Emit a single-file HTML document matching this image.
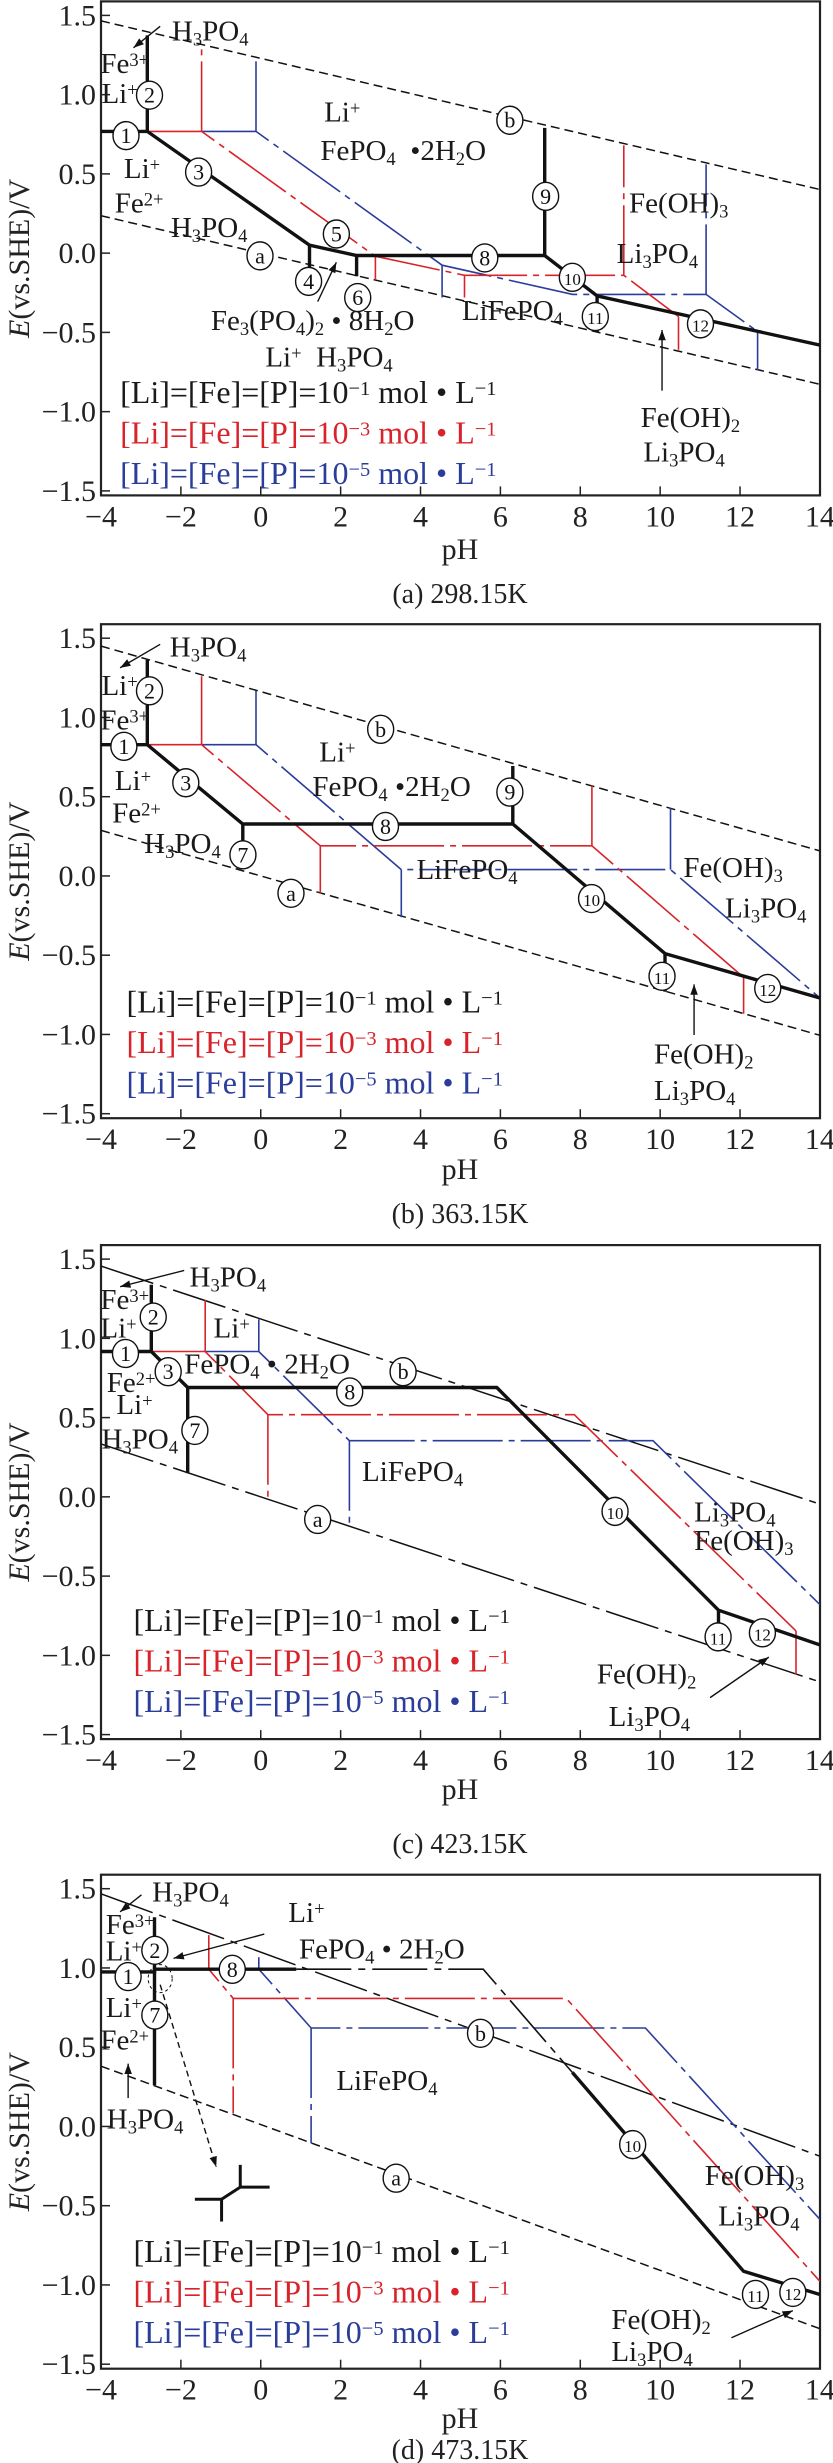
<!DOCTYPE html>
<html><head><meta charset="utf-8">
<style>
html,body{margin:0;padding:0;background:#fff;}
svg{display:block;font-family:"Liberation Serif","Times New Roman",serif;}
</style></head>
<body>
<svg id="fig" width="833" height="2463" viewBox="0 0 833 2463" xmlns="http://www.w3.org/2000/svg"></svg>
<script>
// ---------- axis / tick data ----------
const xTicks = [-4,-2,0,2,4,6,8,10,12,14];
const yTicks = [1.5,1.0,0.5,0.0,-0.5,-1.0,-1.5];
const yTickLabels = ["1.5","1.0","0.5","0.0","\u22120.5","\u22121.0","\u22121.5"];
const xTickLabels = ["\u22124","\u22122","0","2","4","6","8","10","12","14"];
const captions = ["(a) 298.15K","(b) 363.15K","(c) 423.15K","(d) 473.15K"];
const legendTexts = ["[Li]=[Fe]=[P]=10^{\u22121} mol \u2022 L^{\u22121}","[Li]=[Fe]=[P]=10^{\u22123} mol \u2022 L^{\u22121}","[Li]=[Fe]=[P]=10^{\u22125} mol \u2022 L^{\u22121}"];

// water stability lines: E = E0 - slope*pH
const waterSlope = [0.0591, 0.0718, 0.0834, 0.0920];
const waterE0_b = [1.229, 1.163, 1.122, 1.100];
const waterE0_a = [0.0, 0.0, 0.0, 0.012];

// ---------- panel (a) 298.15K ----------
const a_black = [[[-4,0.768],[-2.84,0.768],[1.22,0.05],[2.40,-0.015],[7.11,-0.015],[8.42,-0.27],[14,-0.58]],
  [[-2.84,0.768],[-2.84,1.374]],[[1.22,0.05],[1.22,-0.146]],[[2.40,-0.015],[2.40,-0.146]],[[7.11,-0.015],[7.11,0.79]],[[8.42,-0.27],[8.42,-0.50]]];
const a_red = [[[-2.84,0.768],[-1.48,0.768],[2.87,-0.02],[5.10,-0.14],[9.09,-0.14],[10.46,-0.40]],
  [[-1.48,0.768],[-1.48,1.31]],[[2.87,-0.02],[2.87,-0.17]],[[5.10,-0.14],[5.10,-0.28]],[[9.09,-0.14],[9.09,0.68]],[[10.46,-0.40],[10.46,-0.61]]];
const a_blue = [[[-1.48,0.768],[-0.12,0.768],[4.54,-0.076],[7.81,-0.26],[11.15,-0.26],[12.44,-0.495]],
  [[-0.12,0.768],[-0.12,1.22]],[[4.54,-0.076],[4.54,-0.28]],[[11.15,-0.26],[11.15,0.56]],[[12.44,-0.495],[12.44,-0.74]]];

// ---------- panel (b) 363.15K ----------
const b_black = [[[-4,0.828],[-2.84,0.828],[-0.45,0.328],[6.31,0.328],[10.12,-0.49],[14,-0.77]],
  [[-2.84,0.828],[-2.84,1.364]],[[-0.45,0.328],[-0.45,0.045]],[[6.31,0.328],[6.31,0.694]],[[10.12,-0.49],[10.12,-0.73]]];
const b_red = [[[-2.84,0.828],[-1.48,0.828],[1.49,0.19],[8.29,0.19],[12.09,-0.64]],
  [[-1.48,0.828],[-1.48,1.26]],[[1.49,0.19],[1.49,-0.11]],[[8.29,0.19],[8.29,0.57]],[[12.09,-0.64],[12.09,-0.87]]];
const b_blue = [[[-1.48,0.828],[-0.12,0.828],[3.52,0.04],[10.26,0.04],[14,-0.77]],
  [[-0.12,0.828],[-0.12,1.17]],[[3.52,0.04],[3.52,-0.26]],[[10.26,0.04],[10.26,0.43]]];

// ---------- panel (c) 423.15K ----------
const c_black = [[[-4,0.917],[-2.74,0.917],[-1.83,0.69],[5.91,0.69],[11.46,-0.715],[14,-0.934]],
  [[-2.74,0.917],[-2.74,1.338]],[[-1.83,0.69],[-1.83,0.15]],[[11.46,-0.715],[11.46,-0.96]]];
const c_red = [[[-2.74,0.917],[-1.39,0.917],[0.18,0.518],[7.85,0.518],[13.40,-0.846]],
  [[-1.39,0.917],[-1.39,1.24]],[[0.18,0.518],[0.18,-0.01]],[[13.40,-0.846],[13.40,-1.12]]];
const c_blue = [[[-1.39,0.917],[-0.05,0.917],[2.22,0.354],[9.82,0.354],[14,-0.68]],
  [[-0.05,0.917],[-0.05,1.12]],[[2.22,0.354],[2.22,-0.19]]];

// ---------- panel (d) 473.15K ----------
const d_black = [[[-4,0.975],[-2.66,0.975],[-2.66,0.992],[0.89,0.992]],[[7.8,0.341],[12.09,-0.914],[14,-1.06]],
  [[-2.66,1.32],[-2.66,0.26]]];
const d_black_thin = [[[0.89,0.992],[5.57,0.992],[7.8,0.341]]];
const d_red = [[[-2.66,0.992],[-1.30,0.992],[-0.69,0.808],[7.65,0.808],[14,-0.977]],
  [[-1.30,0.992],[-1.30,1.207]],[[-0.69,0.808],[-0.69,0.083]]];
const d_blue = [[[-1.30,0.992],[-0.05,0.992],[1.26,0.621],[9.63,0.621],[14,-0.586]],
  [[-0.05,0.992],[-0.05,1.068]],[[1.26,0.621],[1.26,-0.106]]];

const panelBlack = [a_black,b_black,c_black,d_black];
const panelRed = [a_red,b_red,c_red,d_red];
const panelBlue = [a_blue,b_blue,c_blue,d_blue];

// layout
const T0 = [15.4, 638.2, 1259.1, 1888.7];   // y of E=1.5
const OFF = [0, 620, 1230, 1843];
const PH_Y = [559, 1179, 1799, 2428];
const CAP_Y = [603, 1223, 1853, 2459];
const X0 = 101, PXPH = 39.94, PXV = 158.5;
const LEG_ZY = [[995,1095,1195],[970,1070,1170],[990,1090,1190],[1035,1135,1235]];
const LEG_ZX = [225,237,250,250];

const NS = "http://www.w3.org/2000/svg";
const svg = document.getElementById('fig');
function xS(pH){return X0 + (pH+4)*PXPH;}
function yS(p,E){return T0[p] + (1.5-E)*PXV;}
function mk(tag, attrs, parent){const e=document.createElementNS(NS,tag);for(const k in attrs)e.setAttribute(k,attrs[k]);(parent||svg).appendChild(e);return e;}
function zx(v){return v/1.873;}
function zy(p,v){return OFF[p]+v/2.47;}

function rich(el, str){
  let i=0, buf='';
  const flush=()=>{if(buf){const t=mk('tspan',{},el);t.textContent=buf;buf='';}};
  while(i<str.length){
    const ch=str[i];
    if(ch==='_'||ch==='^'){
      flush();
      let s='';
      if(str[i+1]==='{'){const j=str.indexOf('}',i);s=str.slice(i+2,j);i=j+1;}
      else{s=str[i+1];i+=2;}
      const t=mk('tspan',{'baseline-shift':ch==='_'?'-28%':'38%','font-size':'64%'},el);
      t.textContent=s;
    } else {buf+=ch;i++;}
  }
  flush();
}
function label(p, zxv, zyv, str, name, size, color){
  const t=mk('text',{x:zx(zxv),y:zy(p,zyv),'font-size':size||29,fill:color||'#1a1a1a'});
  
  
  rich(t,str);
  return t;
}
function circ(p, zxv, zyv, num, name){
  const g=mk('g',{});
  
  
  const cx=zx(zxv), cy=zy(p,zyv);
  mk('ellipse',{cx:cx,cy:cy,rx:13,ry:14,fill:'#fff',stroke:'#111','stroke-width':1.4},g);
  const t=mk('text',{x:cx,y:cy+7.5,'text-anchor':'middle','font-size':num.length>1?17:22,fill:'#111'},g);
  t.textContent=num;
}
function arrow(p, x1,y1,x2,y2,name,dashed){
  const g=mk('g',{});
  
  
  const X1=zx(x1),Y1=zy(p,y1),X2=zx(x2),Y2=zy(p,y2);
  mk('line',{x1:X1,y1:Y1,x2:X2,y2:Y2,stroke:'#111','stroke-width':1.4,'stroke-dasharray':dashed?'6 4':'none'},g);
  const ang=Math.atan2(Y2-Y1,X2-X1), L=11, w=0.35;
  const pts=[[X2,Y2],[X2-L*Math.cos(ang-w),Y2-L*Math.sin(ang-w)],[X2-L*Math.cos(ang+w),Y2-L*Math.sin(ang+w)]];
  mk('polygon',{points:pts.map(q=>q.join(',')).join(' '),fill:'#111'},g);
}
function polyPath(p, pts){return pts.map((q,i)=>(i?'L':'M')+xS(q[0]).toFixed(1)+','+yS(p,q[1]).toFixed(1)).join(' ');}

for(let p=0;p<4;p++){
  const panel=mk('g',{});
  
  
  const top=T0[p]-14, bot=T0[p]+480;
  const clipId='clip'+p;
  const cp=mk('clipPath',{id:clipId},panel);
  mk('rect',{x:X0,y:top,width:719,height:bot-top},cp);
  const frame=mk('rect',{x:X0,y:top,width:719,height:bot-top,fill:'none',stroke:'#222','stroke-width':2.2},panel);
  
  
  yTicks.forEach((v,i)=>{
    const y=yS(p,v);
    mk('line',{x1:X0,y1:y,x2:X0+9,y2:y,stroke:'#222','stroke-width':1.5},panel);
    const t=mk('text',{x:96,y:y+10,'text-anchor':'end','font-size':30,fill:'#222'},panel);
    
    
    t.textContent=yTickLabels[i];
  });
  xTicks.forEach((v,i)=>{
    const x=xS(v);
    mk('line',{x1:x,y1:bot,x2:x,y2:bot-9,stroke:'#222','stroke-width':1.5},panel);
    const t=mk('text',{x:x,y:bot+31,'text-anchor':'middle','font-size':30,fill:'#222'},panel);
    
    
    t.textContent=xTickLabels[i];
  });
  const xt=mk('text',{x:460,y:PH_Y[p],'text-anchor':'middle','font-size':30,fill:'#222'},panel);
  
  
  xt.textContent='pH';
  const yt=mk('text',{x:0,y:0,'text-anchor':'middle','font-size':30,fill:'#222',transform:`translate(29,${T0[p]+243}) rotate(-90)`},panel);
  
  
  const it=mk('tspan',{'font-style':'italic'},yt); it.textContent='E';
  const rt=mk('tspan',{},yt); rt.textContent='(vs.SHE)/V';
  const cap=mk('text',{x:460,y:CAP_Y[p],'text-anchor':'middle','font-size':28,fill:'#222'},panel);
  
  
  cap.textContent=captions[p];

  const plot=mk('g',{'clip-path':`url(#${clipId})`},panel);
  
  
  const wdash = p===2 ? '55 7 7 7' : '9 5';
  const bdash = p>=2 ? '55 7 7 7' : '9 5';
  const lb=mk('path',{d:polyPath(p,[[-4,waterE0_b[p]+4*waterSlope[p]],[14,waterE0_b[p]-14*waterSlope[p]]]),stroke:'#111','stroke-width':1.5,fill:'none','stroke-dasharray':bdash},plot);
  
  
  const la=mk('path',{d:polyPath(p,[[-4,waterE0_a[p]+4*waterSlope[p]],[14,waterE0_a[p]-14*waterSlope[p]]]),stroke:'#111','stroke-width':1.5,fill:'none','stroke-dasharray':wdash},plot);
  
  
  panelBlue[p].forEach(seg=>{
    const e=mk('path',{d:polyPath(p,seg),stroke:'#2a3d9a','stroke-width':1.6,fill:'none','stroke-dasharray':'70 6 6 6'},plot);
    
    
  });
  panelRed[p].forEach(seg=>{
    const e=mk('path',{d:polyPath(p,seg),stroke:'#d8232a','stroke-width':1.6,fill:'none','stroke-dasharray':'70 6 6 6'},plot);
    
    
  });
  if(p===3){
    d_black_thin.forEach(seg=>{
      const e=mk('path',{d:polyPath(p,seg),stroke:'#111','stroke-width':1.6,fill:'none','stroke-dasharray':'55 7 7 7'},plot);
      
      
    });
  }
  panelBlack[p].forEach(seg=>{
    const e=mk('path',{d:polyPath(p,seg),stroke:'#111','stroke-width':3.4,fill:'none','stroke-linejoin':'miter'},plot);
    
    
  });
  const cols=['#1a1a1a','#d8232a','#2a3d9a'];
  LEG_ZY[p].forEach((v,i)=>{
    const t=mk('text',{x:zx(LEG_ZX[p]),y:zy(p,v),'font-size':32,fill:cols[i]});
    
    
    rich(t,legendTexts[i]);
  });
}

// ---------- annotations panel a ----------
label(0,322,100,'H_3PO_4','label-h3po4');
arrow(0,300,65,250,118,'arrow-h3po4');
label(0,188,180,'Fe^{3+}','label-fe3');
label(0,190,255,'Li^{+}','label-li');
circ(0,280,235,'2','marker-2'); circ(0,236,335,'1','marker-1');
label(0,232,440,'Li^{+}','label-li'); circ(0,372,425,'3','marker-3');
label(0,215,525,'Fe^{2+}','label-fe2'); label(0,320,585,'H_3PO_4','label-h3po4');
circ(0,487,632,'a','marker-a'); circ(0,955,297,'b','marker-b');
label(0,607,300,'Li^{+}','label-li'); label(0,600,395,'FePO_4 \u00a0\u20222H_2O','label-fepo4');
circ(0,630,578,'5','marker-5'); circ(0,578,695,'4','marker-4'); circ(0,670,735,'6','marker-6');
arrow(0,595,745,630,648,'arrow-fe3po4');
label(0,395,815,'Fe_3(PO_4)_2 \u2022 8H_2O','label-fe3po42');
label(0,497,905,'Li^{+} \u00a0H_3PO_4','label-li-h3po4');
circ(0,908,637,'8','marker-8'); circ(0,1022,485,'9','marker-9'); circ(0,1072,685,'10','marker-10');
circ(0,1115,782,'11','marker-11'); circ(0,1312,800,'12','marker-12');
label(0,865,790,'LiFePO_4','label-lifepo4');
label(0,1178,525,'Fe(OH)_3','label-feoh3'); label(0,1155,650,'Li_3PO_4','label-li3po4');
arrow(0,1240,965,1240,815,'arrow-feoh2');
label(0,1200,1055,'Fe(OH)_2','label-feoh2'); label(0,1205,1140,'Li_3PO_4','label-li3po4');

// ---------- panel b ----------
label(1,318,90,'H_3PO_4','label-h3po4'); arrow(1,300,60,225,118,'arrow-h3po4');
label(1,190,185,'Li^{+}','label-li'); circ(1,280,175,'2','marker-2');
label(1,188,270,'Fe^{3+}','label-fe3'); circ(1,232,312,'1','marker-1');
label(1,215,420,'Li^{+}','label-li'); circ(1,348,402,'3','marker-3');
label(1,210,500,'Fe^{2+}','label-fe2'); label(1,270,575,'H_3PO_4','label-h3po4'); circ(1,455,580,'7','marker-7');
circ(1,545,675,'a','marker-a'); circ(1,713,270,'b','marker-b');
label(1,598,350,'Li^{+}','label-li'); label(1,585,435,'FePO_4 \u20222H_2O','label-fepo4');
circ(1,955,425,'9','marker-9'); circ(1,722,510,'8','marker-8');
label(1,780,640,'LiFePO_4','label-lifepo4');
circ(1,1108,688,'10','marker-10'); circ(1,1240,880,'11','marker-11'); circ(1,1438,910,'12','marker-12');
label(1,1280,635,'Fe(OH)_3','label-feoh3'); label(1,1358,735,'Li_3PO_4','label-li3po4');
arrow(1,1300,1025,1300,900,'arrow-feoh2');
label(1,1225,1095,'Fe(OH)_2','label-feoh2'); label(1,1225,1185,'Li_3PO_4','label-li3po4');

// ---------- panel c ----------
label(2,355,140,'H_3PO_4','label-h3po4'); arrow(2,345,100,225,140,'arrow-h3po4');
label(2,188,195,'Fe^{3+}','label-fe3'); circ(2,287,215,'2','marker-2');
label(2,188,265,'Li^{+}','label-li'); circ(2,235,305,'1','marker-1'); circ(2,315,350,'3','marker-3');
label(2,200,400,'Fe^{2+}','label-fe2'); label(2,218,455,'Li^{+}','label-li');
circ(2,365,495,'7','marker-7'); label(2,190,540,'H_3PO_4','label-h3po4');
label(2,400,265,'Li^{+}','label-li'); label(2,345,355,'FePO_4 \u2022 2H_2O','label-fepo4');
circ(2,655,400,'8','marker-8'); circ(2,755,350,'b','marker-b'); circ(2,595,715,'a','marker-a');
label(2,678,620,'LiFePO_4','label-lifepo4'); circ(2,1152,695,'10','marker-10');
label(2,1300,720,'Li_3PO_4','label-li3po4'); label(2,1300,790,'Fe(OH)_3','label-feoh3');
circ(2,1345,1005,'11','marker-11'); circ(2,1428,995,'12','marker-12');
arrow(2,1330,1155,1440,1055,'arrow-feoh2');
label(2,1118,1120,'Fe(OH)_2','label-feoh2'); label(2,1140,1225,'Li_3PO_4','label-li3po4');

// ---------- panel d ----------
label(3,285,145,'H_3PO_4','label-h3po4'); arrow(3,265,128,225,170,'arrow-h3po4');
label(3,198,225,'Fe^{3+}','label-fe3'); circ(3,290,265,'2','marker-2');
label(3,198,290,'Li^{+}','label-li'); circ(3,240,330,'1','marker-1');
label(3,198,430,'Li^{+}','label-li'); circ(3,290,425,'7','marker-7');
label(3,188,510,'Fe^{2+}','label-fe2'); arrow(3,240,630,240,545,'arrow-h3po4-low');
label(3,200,705,'H_3PO_4','label-h3po4');
label(3,540,195,'Li^{+}','label-li'); label(3,560,285,'FePO_4 \u2022 2H_2O','label-fepo4');
arrow(3,495,225,325,285,'arrow-fepo4');
circ(3,435,312,'8','marker-8'); circ(3,900,470,'b','marker-b'); circ(3,742,828,'a','marker-a');
label(3,630,610,'LiFePO_4','label-lifepo4'); circ(3,1185,745,'10','marker-10');
label(3,1320,845,'Fe(OH)_3','label-feoh3'); label(3,1345,945,'Li_3PO_4','label-li3po4');
circ(3,1415,1115,'11','marker-11'); circ(3,1485,1110,'12','marker-12');
arrow(3,1370,1222,1485,1155,'arrow-feoh2');
label(3,1145,1200,'Fe(OH)_2','label-feoh2'); label(3,1145,1280,'Li_3PO_4','label-li3po4');
(function(){
  const g=mk('g',{});
  
  
  mk('ellipse',{cx:zx(300),cy:zy(3,335),rx:12,ry:14,fill:'none',stroke:'#111','stroke-width':1,'stroke-dasharray':'3 3'},g);
  const segs=[[365,880,415,880],[415,880,450,850],[450,850,505,850],[450,850,450,795],[415,880,415,935]];
  segs.forEach(s=>mk('line',{x1:zx(s[0]),y1:zy(3,s[1]),x2:zx(s[2]),y2:zy(3,s[3]),stroke:'#111','stroke-width':3},g));
  arrow(3,300,350,405,800,'arrow-inset',true);
})();
</script>
</body></html>
